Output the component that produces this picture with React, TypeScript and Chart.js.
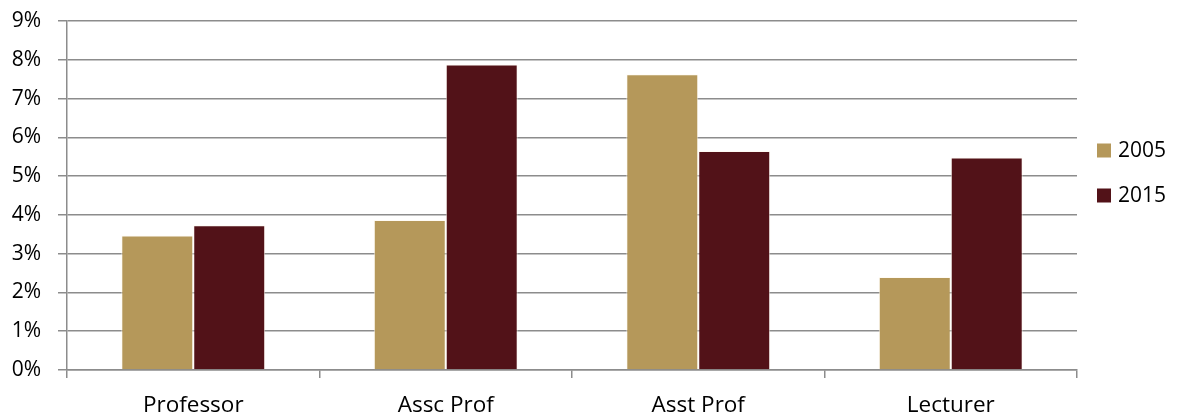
import React, { useEffect, useRef } from "react";
import { Chart, registerables } from "chart.js";

Chart.register(...registerables);

const categories = ["Professor", "Assc Prof", "Asst Prof", "Lecturer"];
const seriesLabels = ["2005", "2015"];
const values2005 = [3.47, 3.87, 7.63, 2.4];
const values2015 = [3.73, 7.88, 5.65, 5.48];
const seriesColors = ["#B5985A", "#521218"];
const yMin = 0;
const yMax = 9;
const yStep = 1;

const FONT = "'Open Sans', 'Noto Sans', sans-serif";

const sideLegend = {
  id: "sideLegend",
  afterDraw(chart: any) {
    const { ctx, chartArea } = chart;
    const mid = (chartArea.top + chartArea.bottom) / 2;
    ctx.save();
    chart.data.datasets.forEach((ds: any, i: number) => {
      const cy = mid - 45 + i * 45;
      ctx.fillStyle = ds.backgroundColor;
      ctx.fillRect(chartArea.right + 20, cy - 7, 14, 14);
      ctx.fillStyle = "#000";
      ctx.font = `21px ${FONT}`;
      ctx.textBaseline = "middle";
      ctx.textAlign = "left";
      ctx.fillText(ds.label, chartArea.right + 41, cy + 1);
    });
    ctx.restore();
  },
};

export default function App() {
  const ref = useRef<HTMLCanvasElement>(null);

  useEffect(() => {
    if (!ref.current) return;
    const chart = new Chart(ref.current, {
      type: "bar",
      data: {
        labels: categories,
        datasets: [
          {
            label: seriesLabels[0],
            data: values2005,
            backgroundColor: seriesColors[0],
            borderColor: "rgba(255,250,240,0.7)",
            borderWidth: 1,
          },
          {
            label: seriesLabels[1],
            data: values2015,
            backgroundColor: seriesColors[1],
            borderColor: "rgba(255,250,240,0.7)",
            borderWidth: 1,
          },
        ],
      },
      options: {
        animation: false,
        responsive: true,
        maintainAspectRatio: false,
        layout: { autoPadding: false, padding: { top: 13, right: 93, bottom: 0, left: 0 } },
        datasets: {
          bar: { categoryPercentage: 0.57, barPercentage: 1 },
        },
        plugins: {
          legend: { display: false },
          tooltip: { enabled: false },
          title: { display: false },
        },
        scales: {
          x: {
            offset: true,
            grid: {
              offset: true,
              drawOnChartArea: false,
              drawTicks: true,
              tickLength: 8,
              color: "#8c8c8c",
              lineWidth: 1.5,
            },
            border: { display: true, color: "#8c8c8c", width: 1.5 },
            ticks: {
              color: "#000",
              font: { family: FONT, size: 22.5 },
              padding: 14,
              maxRotation: 0,
            },
            afterFit(scale: any) {
              scale.height = 47;
              scale.paddingLeft = 0;
              scale.paddingRight = 0;
            },
          },
          y: {
            min: yMin,
            max: yMax,
            grid: {
              color: "#8c8c8c",
              lineWidth: 1.5,
              tickLength: 9,
            },
            border: { display: true, color: "#8c8c8c", width: 1.5 },
            ticks: {
              stepSize: yStep,
              color: "#000",
              font: { family: FONT, size: 21 },
              padding: 17,
              callback: (v: any) => `${v}%`,
            },
            afterFit(scale: any) {
              scale.width = 59;
              scale.paddingTop = 0;
              scale.paddingBottom = 0;
            },
          },
        },
      },
      plugins: [sideLegend],
    });
    return () => chart.destroy();
  }, []);

  return (
    <div style={{ width: 1162, height: 409, position: "relative" }}>
      <canvas ref={ref} />
    </div>
  );
}
